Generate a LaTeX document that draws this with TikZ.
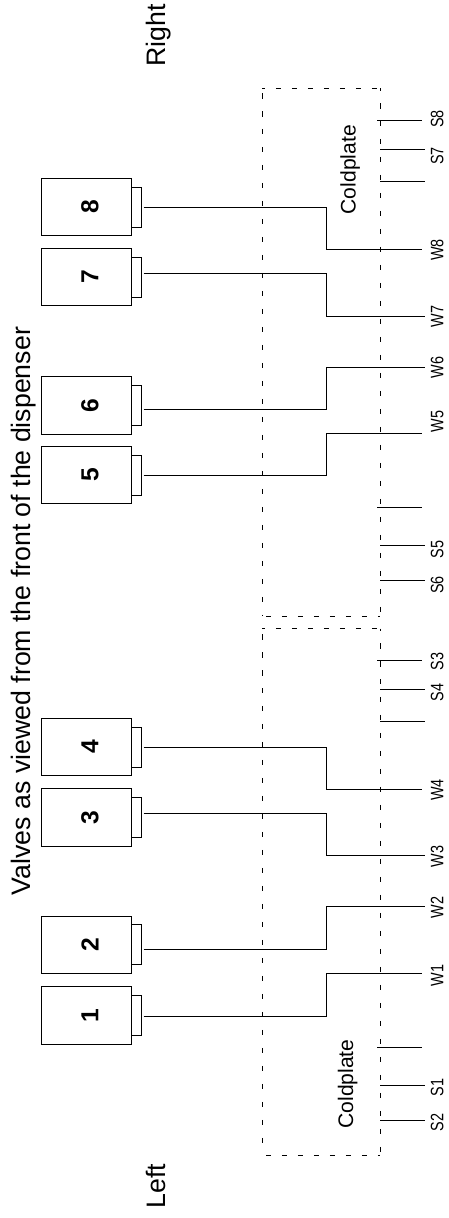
\documentclass[tikz,border=0pt]{standalone}
\usepackage{fontspec}
\setmainfont{Liberation Sans}
\tikzset{
	valve/.style={draw,line width=0.55pt,inner sep=0pt,outer sep=0pt,minimum width=1.8cm,minimum height=1.15cm,anchor=north west},
	nozzle/.style={draw,line width=0.55pt,inner sep=0pt,outer sep=0pt,minimum width=0.19cm,minimum height=0.8cm,anchor=west},
	num/.style={rotate=90,inner sep=0pt,font=\fontsize{14}{16}\bfseries},
	wire/.style={line width=0.55pt},
	longdash/.style={line width=0.5pt,dash pattern=on 0.11cm off 0.25cm},
	shortdash/.style={line width=0.5pt,dash pattern=on 0.1cm off 0.22cm},
	bigtxt/.style={rotate=90,anchor=base,inner sep=0pt,font=\fontsize{15.2}{18}\selectfont},
	platetxt/.style={rotate=90,anchor=base,inner sep=0pt,font=\fontsize{12}{14}\selectfont},
	tag/.style={rotate=90,yscale=1.25,anchor=base,inner sep=0pt,font=\fontsize{8.2}{10}\selectfont}
}
\begin{document}
\begin{tikzpicture}[x=0.02cm,y=-0.02cm]
	\useasboundingbox (0,0) rectangle (449,1218);
	% captions
	\node[bigtxt] (title) at (30.4,611) {Valves as viewed from the front of the dispenser};
	\node[bigtxt] (left) at (165.7,1186) {Left};
	\node[bigtxt] (right) at (165.7,35.4) {Right};
	\node[platetxt] (plateL) at (353,1084) {Coldplate};
	\node[platetxt] (plateR) at (355.5,169.7) {Coldplate};
	% coldplates
	\draw[longdash] (262.3,93)--(262.3,616);
	\draw[longdash,dash phase=0.066cm] (380,88.3)--(380,616);
	\draw[shortdash] (266,616)--(380,616);
	\draw[shortdash,dash phase=0.046cm] (262.3,88.3)--(380,88.3);
	\draw[longdash] (262.3,634)--(262.3,1155.3);
	\draw[longdash,dash phase=0.074cm] (380,628.7)--(380,1155.3);
	\draw[shortdash,dash phase=0.046cm] (262.3,628.7)--(380,628.7);
	\draw[shortdash] (266,1155.3)--(380,1155.3);
	% valves
	\node[valve] (v1) at (41.7,986.7) {};
	\node[valve] (v2) at (41.7,916) {};
	\node[valve] (v3) at (41.7,788.7) {};
	\node[valve] (v4) at (41.7,718.3) {};
	\node[valve] (v5) at (41.7,446.3) {};
	\node[valve] (v6) at (41.7,376.7) {};
	\node[valve] (v7) at (41.7,248.3) {};
	\node[valve] (v8) at (41.7,178.3) {};
	\node[nozzle] (n1) at (v1.east) {};
	\node[nozzle] (n2) at (v2.east) {};
	\node[nozzle] (n3) at (v3.east) {};
	\node[nozzle] (n4) at (v4.east) {};
	\node[nozzle] (n5) at (v5.east) {};
	\node[nozzle] (n6) at (v6.east) {};
	\node[nozzle] (n7) at (v7.east) {};
	\node[nozzle] (n8) at (v8.east) {};
	\node[num] (d1) at ([xshift=0.066cm]v1.center) {1};
	\node[num] (d2) at ([xshift=0.066cm]v2.center) {2};
	\node[num] (d3) at ([xshift=0.066cm]v3.center) {3};
	\node[num] (d4) at ([xshift=0.066cm]v4.center) {4};
	\node[num] (d5) at ([xshift=0.066cm]v5.center) {5};
	\node[num] (d6) at ([xshift=0.066cm]v6.center) {6};
	\node[num] (d7) at ([xshift=0.066cm]v7.center) {7};
	\node[num] (d8) at ([xshift=0.066cm]v8.center) {8};
	% water lines
	\coordinate (bend) at (326.3,0);
	\coordinate (a1) at (143.7,1016);
	\coordinate (a2) at (143.7,949.3);
	\coordinate (a3) at (143.7,813.3);
	\coordinate (a4) at (143.7,747.3);
	\coordinate (a5) at (143.7,475.7);
	\coordinate (a6) at (143.7,409);
	\coordinate (a7) at (143.7,273.3);
	\coordinate (a8) at (143.7,207);
	\coordinate (b1) at (422,973);
	\coordinate (b2) at (425.3,906.3);
	\coordinate (b3) at (425.3,855.7);
	\coordinate (b4) at (422,789.3);
	\coordinate (b5) at (422,433.7);
	\coordinate (b6) at (425.3,367);
	\coordinate (b7) at (425.3,316.3);
	\coordinate (b8) at (422,249.7);
	\draw[wire] (a1)--(a1-|bend)|-(b1);
	\draw[wire] (a2)--(a2-|bend)|-(b2);
	\draw[wire] (a3)--(a3-|bend)|-(b3);
	\draw[wire] (a4)--(a4-|bend)|-(b4);
	\draw[wire] (a5)--(a5-|bend)|-(b5);
	\draw[wire] (a6)--(a6-|bend)|-(b6);
	\draw[wire] (a7)--(a7-|bend)|-(b7);
	\draw[wire] (a8)--(a8-|bend)|-(b8);
	\node[tag] (w1) at (443.3,975.7) {W1};
	\node[tag] (w2) at (443.3,907.7) {W2};
	\node[tag] (w3) at (443.3,856.7) {W3};
	\node[tag] (w4) at (443.3,790) {W4};
	\node[tag] (w5) at (443.3,421.7) {W5};
	\node[tag] (w6) at (443.3,367.3) {W6};
	\node[tag] (w7) at (443.3,316.7) {W7};
	\node[tag] (w8) at (443.3,250) {W8};
	% syrup lines
	\draw[wire] (380,1120.7)coordinate(s2a)--(425.3,1120.7)coordinate(s2b);
	\draw[wire] (380,1085.7)coordinate(s1a)--(425.3,1085.7)coordinate(s1b);
	\draw[wire] (377,1047.3)coordinate(x1a)--(422,1047.3)coordinate(x1b);
	\draw[wire] (380,721.3)coordinate(x2a)--(425.3,721.3)coordinate(x2b);
	\draw[wire] (380,689.3)coordinate(s4a)--(425.3,689.3)coordinate(s4b);
	\draw[wire] (377,660.7)coordinate(s3a)--(422,660.7)coordinate(s3b);
	\draw[wire] (380,580.7)coordinate(s6a)--(425.3,580.7)coordinate(s6b);
	\draw[wire] (380,545.7)coordinate(s5a)--(425.3,545.7)coordinate(s5b);
	\draw[wire] (377,507)coordinate(x3a)--(422,507)coordinate(x3b);
	\draw[wire] (380,181.3)coordinate(x4a)--(425.3,181.3)coordinate(x4b);
	\draw[wire] (380,149.3)coordinate(s7a)--(425.3,149.3)coordinate(s7b);
	\draw[wire] (377,120.3)coordinate(s8a)--(422,120.3)coordinate(s8b);
	\node[tag] (s1) at (443.3,1087.3) {S1};
	\node[tag] (s2) at (443.3,1122.3) {S2};
	\node[tag] (s3) at (443.3,661.7) {S3};
	\node[tag] (s4) at (443.3,692.3) {S4};
	\node[tag] (s5) at (443.3,549.3) {S5};
	\node[tag] (s6) at (443.3,585) {S6};
	\node[tag] (s7) at (443.3,155.8) {S7};
	\node[tag] (s8) at (443.3,119) {S8};
\end{tikzpicture}
\end{document}
